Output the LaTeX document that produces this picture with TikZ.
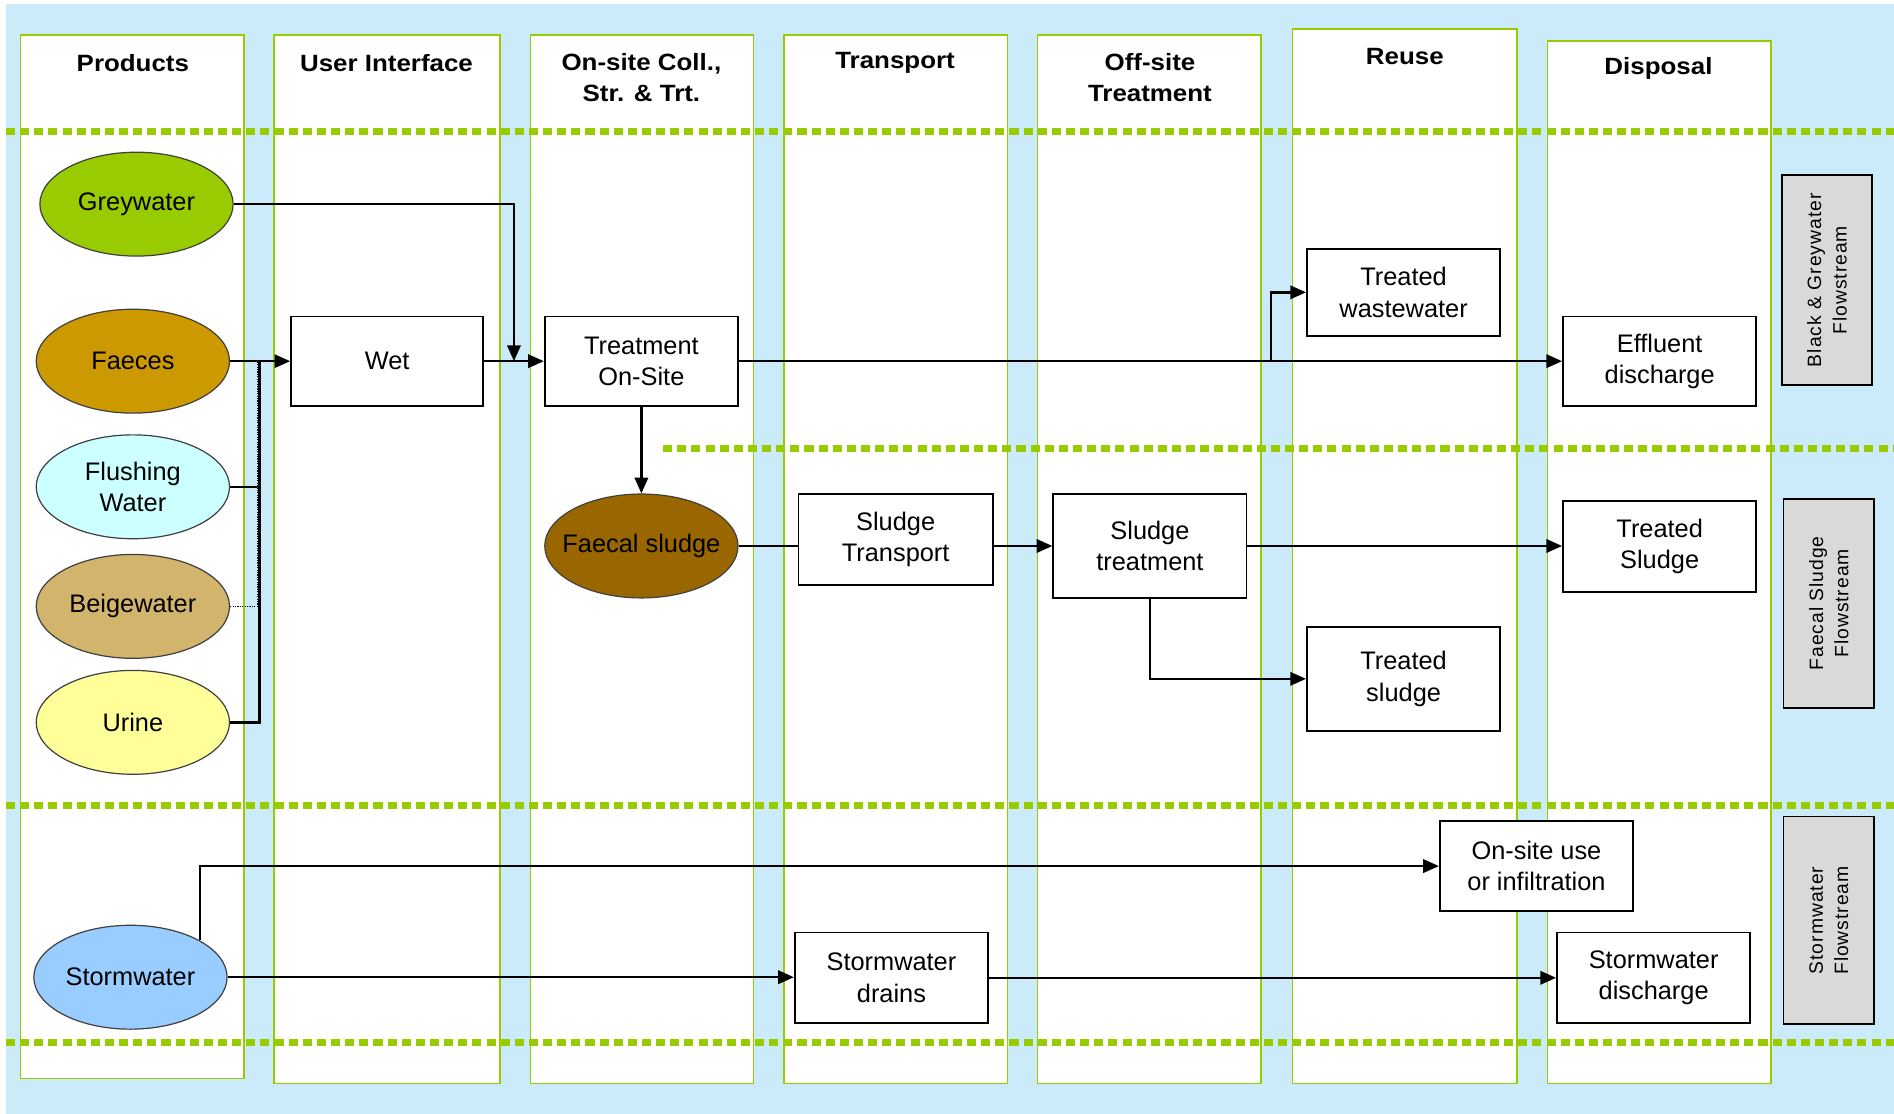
\documentclass[tikz,border=0pt]{standalone}
\usepackage{fontspec}
\setmainfont{Liberation Sans}
\newfontfamily\hdrfont[FakeStretch=1.1]{Liberation Sans}
\newfontfamily\flowfont[LetterSpace=5]{Liberation Sans}
\usetikzlibrary{shapes.geometric,arrows.meta,calc}
\definecolor{bgblue}{HTML}{CCEBFA}
\definecolor{lgreen}{HTML}{99CC00}
\definecolor{flowgray}{HTML}{D9D9D9}
\definecolor{cgrey}{HTML}{99CC00}
\definecolor{cfaeces}{HTML}{CC9900}
\definecolor{cflush}{HTML}{CCFFFF}
\definecolor{cbeige}{HTML}{D2B46C}
\definecolor{curine}{HTML}{FFFF99}
\definecolor{cstorm}{HTML}{99CCFF}
\definecolor{csludge}{HTML}{996600}
\tikzset{
  col/.style={draw=lgreen, line width=1.2pt, fill=white},
  sep/.style={draw=lgreen, line width=6pt, dash pattern=on 7.5pt off 4.2pt},
  hdr/.style={font=\hdrfont\bfseries\fontsize{19.5}{26}\selectfont, align=center, inner sep=0pt},
  box/.style={draw=black, line width=1.5pt, fill=white, minimum width=160pt, minimum height=74pt, inner sep=0pt, align=center, font=\fontsize{21}{26}\selectfont},
  prod/.style={ellipse, draw=black!75, line width=1pt, minimum width=160pt, minimum height=86pt, inner xsep=-20pt, inner ysep=0pt, align=center, font=\fontsize{21}{26}\selectfont},
  flow/.style={draw=black, line width=1.5pt, fill=flowgray, rotate=90, minimum height=75pt, inner sep=0pt, align=center, font=\flowfont\fontsize{16}{21}\selectfont},
  conn/.style={line width=2pt, draw=black},
  arr/.style={conn, -{Triangle[length=13pt,width=11pt]}},
}
\begin{document}
\begin{tikzpicture}[x=1pt,y=-1pt]
\useasboundingbox (0,0) rectangle (1568,922);
\fill[bgblue] (5,3) rectangle (1568,922);
% columns
\draw[col] (17,29) rectangle (202,893);
\draw[col] (227,29) rectangle (414,897);
\draw[col] (439,29) rectangle (624,897);
\draw[col] (649,29) rectangle (834,897);
\draw[col] (859,29) rectangle (1044,897);
\draw[col] (1070,24) rectangle (1256,897);
\draw[col] (1281,34) rectangle (1466,897);
% headers
\node[hdr] (h1) at (110,52) {Products};
\node[hdr] (h2) at (320,52) {User Interface};
\node[hdr] (h3) at (531,64) {On-site Coll.,\\Str. \& Trt.};
\node[hdr] (h4) at (741,52) {Transport};
\node[hdr] (h5) at (952,64) {Off-site\\Treatment};
\node[hdr] (h6) at (1163,47) {Reuse};
\node[hdr] (h7) at (1373,57) {Disposal};
% separators
\draw[sep] (5,109) -- (1568,109);
\draw[sep] (549,371) -- (1568,371);
\draw[sep] (5,667) -- (1568,667);
\draw[sep] (5,863) -- (1568,863);
% flowstream labels
\node[flow, minimum width=174pt] (fl1) at (1512.5,232) {Black \& Greywater\\Flowstream};
\node[flow, minimum width=173pt] (fl2) at (1514,499.5) {Faecal Sludge\\Flowstream};
\node[flow, minimum width=172pt] (fl3) at (1514,762) {Stormwater\\Flowstream};
% products
\node[prod, fill=cgrey] (gw) at (113,169) {Greywater};
\node[prod, fill=cfaeces] (fa) at (110,299) {Faeces};
\node[prod, fill=cflush] (fw) at (110,403) {Flushing\\Water};
\node[prod, fill=cbeige] (bw) at (110,502) {Beigewater};
\node[prod, fill=curine] (ur) at (110,598) {Urine};
\node[prod, fill=cstorm] (sw) at (108,809) {Stormwater};
\node[prod, fill=csludge] (fs) at (531,452) {Faecal sludge};
% boxes
\node[box, minimum width=159pt] (wet) at (320.5,299) {Wet};
\node[box] (tos) at (531,299) {Treatment\\On-Site};
\node[box, minimum height=72pt] (tww) at (1162,242) {Treated\\wastewater};
\node[box] (eff) at (1374,299) {Effluent\\discharge};
\node[box, minimum width=161pt, minimum height=75pt] (stp) at (741.5,446.5) {Sludge\\Transport};
\node[box, minimum height=86pt] (str) at (952,452) {Sludge\\treatment};
\node[box, minimum height=75pt] (tsl) at (1374,452.5) {Treated\\Sludge};
\node[box, minimum height=86pt] (tsl2) at (1162,562) {Treated\\sludge};
\node[box] (osu) at (1272,717) {On-site use\\or infiltration};
\node[box, minimum height=75pt] (swd) at (738,809.5) {Stormwater\\drains};
\node[box, minimum height=75pt] (swdis) at (1369,809.5) {Stormwater\\discharge};
% connectors
\coordinate (bus) at (215,299);
\coordinate (j1) at (425.5,299);
\coordinate (j2) at (1052,299);
\draw[conn] (ur.east) -| (bus);
\draw[conn] (fw.east) -- (fw.east -| bus);
\draw[densely dotted, line width=1pt] (bw.east) -- ($(bw.east -| bus)+(-2,0)$) -- ($(bus)+(-2,0)$);
\draw[arr] (fa.east) -- (wet.west);
\draw[arr] (gw.east) -| (j1);
\draw[arr] (wet.east) -- (tos.west);
\draw[arr] (tos.south) -- (fs.north);
\draw[arr] (tos.east) -- (eff.west);
\draw[arr] (j2) |- (tww.west);
\draw[conn] (fs.east) -- (fs.east -| stp.west);
\draw[arr] (str.west -| stp.east) -- (str.west);
\draw[arr] (str.east) -- (str.east -| tsl.west);
\draw[arr] (str.south) |- (tsl2.west);
\draw[arr] (sw.28.7) |- (osu.west);
\draw[arr] (sw.east) -- (sw.east -| swd.west);
\draw[arr] (swd.east) -- (swd.east -| swdis.west);
\end{tikzpicture}
\end{document}
